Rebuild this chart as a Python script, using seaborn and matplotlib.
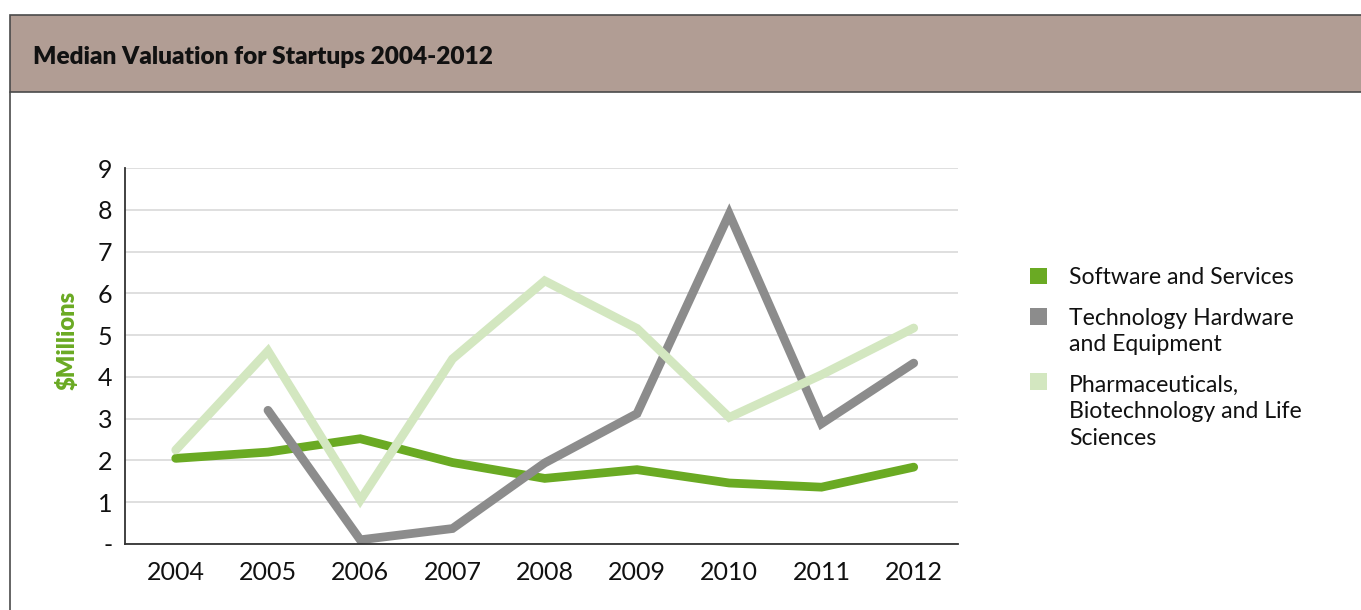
import matplotlib
matplotlib.use("Agg")
import matplotlib.pyplot as plt
from matplotlib.patches import Rectangle, Patch
from matplotlib.legend_handler import HandlerPatch
import seaborn as sns
import pandas as pd
import numpy as np

years = [2004, 2005, 2006, 2007, 2008, 2009, 2010, 2011, 2012]
software = [2.05, 2.2, 2.52, 1.95, 1.57, 1.78, 1.46, 1.36, 1.84]
hardware = [np.nan, 3.2, 0.1, 0.37, 1.94, 3.12, 7.9, 2.88, 4.33]
pharma = [2.25, 4.62, 1.05, 4.43, 6.3, 5.16, 3.03, 4.05, 5.17]
series_names = ["Software and Services",
                "Technology Hardware\nand Equipment",
                "Pharmaceuticals,\nBiotechnology and Life\nSciences"]
colors = ["#6aaa23", "#8c8c8c", "#d3e7c0"]
ytick_labels = ["-", "1", "2", "3", "4", "5", "6", "7", "8", "9"]
title = "Median Valuation for Startups 2004-2012"
ylabel = "$Millions"

rows = []
for name, vals in zip(series_names, [software, hardware, pharma]):
    for y, v in zip(years, vals):
        rows.append({"Year": y, "Value": v, "Series": name})
df = pd.DataFrame(rows)

sns.set_theme(style="white")
plt.rcParams["font.family"] = ["Lato", "DejaVu Sans"]

fig = plt.figure(figsize=(13.61, 6.10), dpi=100)
W, H = 1361, 610

# header band and frame
fig.patches.append(Rectangle((10 / W, 1 - 92 / H), 1.2, 77 / H, transform=fig.transFigure,
                             facecolor="#b19d94", edgecolor="#4a4a4a", linewidth=1.2, zorder=0))
fig.lines.append(plt.Line2D([10 / W, 10 / W], [0, 1 - 92 / H], transform=fig.transFigure,
                            color="#4a4a4a", linewidth=1.2))
fig.text(33 / W, 1 - 57 / H, title, fontsize=17.6, fontweight="heavy", color="#111111",
         va="center", ha="left")

ax = fig.add_axes([125 / W, 1 - 544 / H, (958 - 125) / W, (544 - 168) / H])
sns.lineplot(data=df, x="Year", y="Value", hue="Series", hue_order=series_names,
             palette=dict(zip(series_names, colors)), linewidth=6.3, legend=False, ax=ax,
             sort=False)
for ln in ax.get_lines():
    ln.set_solid_capstyle("round")
    ln.set_solid_joinstyle("miter")
ax.set_xlim(2003.45, 2012.48)
ax.set_ylim(0, 9)
ax.set_yticks(range(10))
ax.set_yticklabels(ytick_labels)
ax.set_xticks(years)
ax.set_xticklabels([str(y) for y in years])
ax.tick_params(axis="both", length=0, labelsize=18, colors="#111111")
ax.tick_params(axis="y", pad=9)
ax.tick_params(axis="x", pad=12)
ax.grid(axis="y", color="#d9d9d9", linewidth=1.2)
ax.set_axisbelow(True)
for s in ["top", "right"]:
    ax.spines[s].set_visible(False)
for s in ["left", "bottom"]:
    ax.spines[s].set_color("#333333")
    ax.spines[s].set_linewidth(1.3)
ax.set_xlabel("")
ax.set_ylabel("")
fig.text(67 / W, 1 - 340 / H, ylabel, rotation=90, fontsize=17, fontweight="heavy",
         color="#6aaa23", ha="center", va="center")


class TopHandler(HandlerPatch):
    def __init__(self, nlines, spacing, **kw):
        super().__init__(**kw)
        self.nlines = nlines
        self.spacing = spacing

    def create_artists(self, legend, orig_handle, xdescent, ydescent, width, height,
                       fontsize, trans):
        shift = (self.nlines - 1) / 2 * fontsize * self.spacing
        p = Rectangle((-xdescent, -ydescent + shift), width, height)
        self.update_prop(p, orig_handle, legend)
        p.set_transform(trans)
        return [p]


LS = 1.32
handles = [Patch(facecolor=c, edgecolor="none") for c in colors]
hmap = {h: TopHandler(n.count("\n") + 1, LS) for h, n in zip(handles, series_names)}
leg = fig.legend(handles, series_names, handler_map=hmap, loc="upper left",
                 bbox_to_anchor=(1030 / W, 1 - 267 / H), frameon=False, fontsize=16.6,
                 handlelength=0.75, handleheight=0.75, handletextpad=0.95,
                 labelspacing=0.85, borderpad=0, borderaxespad=0)
for t in leg.get_texts():
    t.set_linespacing(LS)
    t.set_color("#111111")

fig.savefig("out.png", dpi=100)
